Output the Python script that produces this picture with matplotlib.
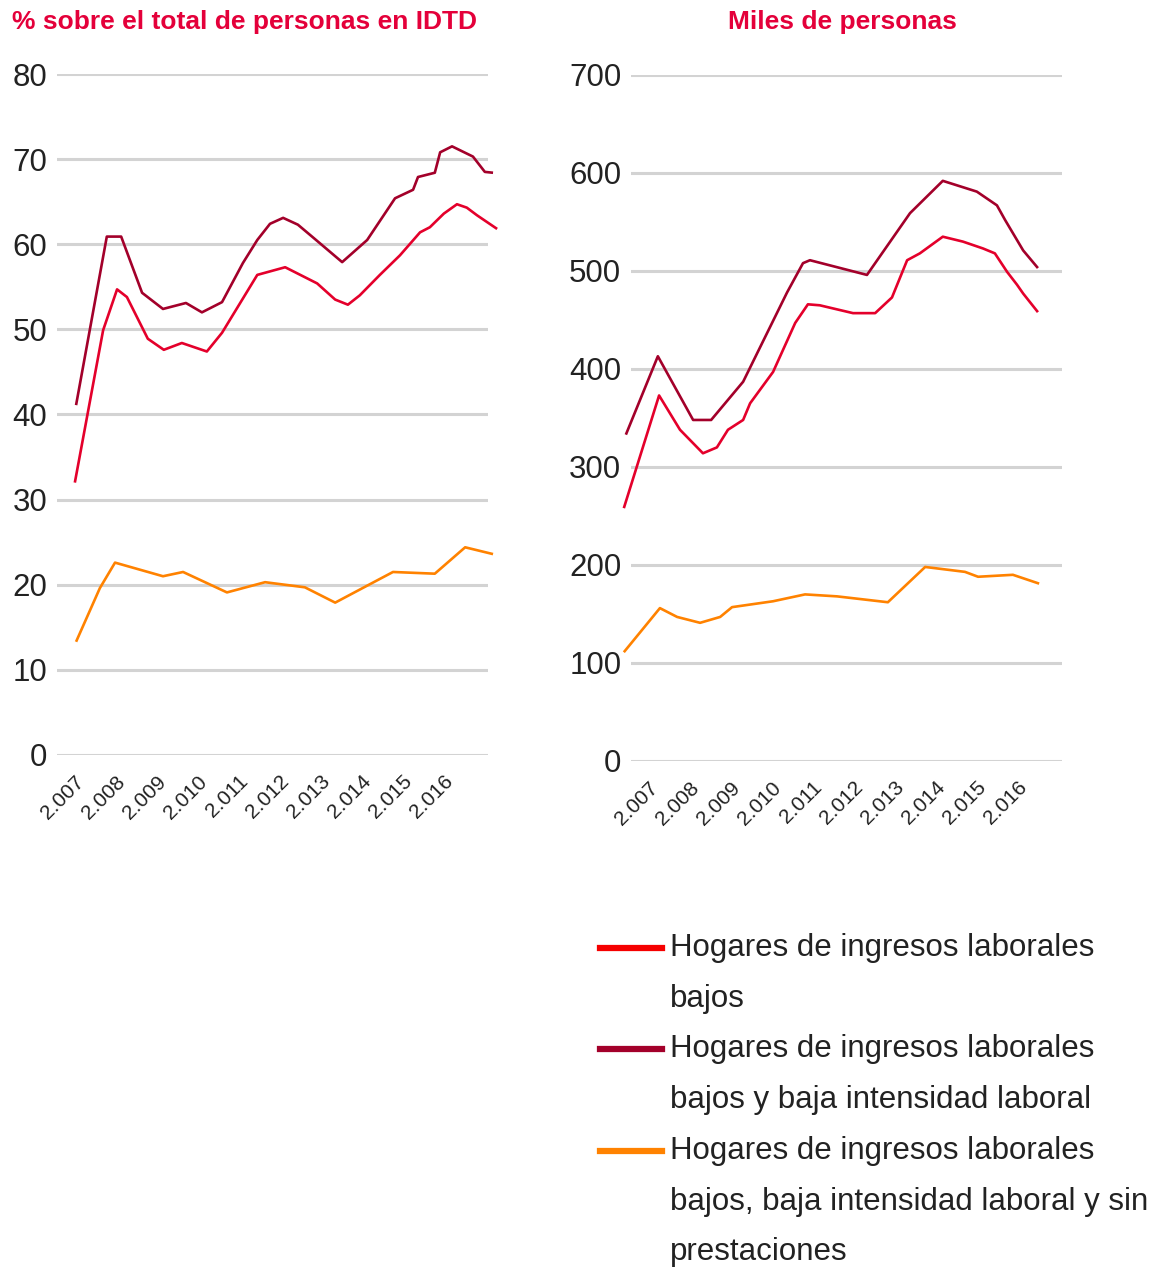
import matplotlib
matplotlib.use("Agg")
import matplotlib.pyplot as plt
from matplotlib.lines import Line2D

# Colours
RED = "#e4002b"
DARK = "#a3002a"
ORANGE = "#ff8200"
GRID = "#d3d3d3"
TXT = "#222222"

# Years on the x axis
years = [2007, 2008, 2009, 2010, 2011, 2012, 2013, 2014, 2015, 2016]
year_labels = ["2.007", "2.008", "2.009", "2.010", "2.011",
               "2.012", "2.013", "2.014", "2.015", "2.016"]

# Left panel: % sobre el total de personas en IDTD
pct_red_x = [2006.85, 2007.54, 2007.88, 2008.12, 2008.63, 2009.02, 2009.46,
             2010.07, 2010.44, 2011.30, 2011.98, 2012.76, 2013.20, 2013.51,
             2013.80, 2014.29, 2014.78, 2015.27, 2015.51, 2015.85, 2016.17,
             2016.41, 2016.66, 2017.15]
pct_red_y = [32.0, 49.9, 54.7, 53.8, 48.9, 47.6, 48.4, 47.4, 49.6, 56.4,
             57.3, 55.4, 53.5, 52.9, 54.0, 56.4, 58.7, 61.4, 62.0, 63.6, 64.7,
             64.3, 63.4, 61.8]

pct_dark_x = [2006.88, 2007.63, 2007.98, 2008.49, 2009.00, 2009.56, 2009.95,
              2010.44, 2010.95, 2011.30, 2011.61, 2011.93, 2012.29, 2012.66,
              2013.37, 2013.98, 2014.66, 2015.10, 2015.22, 2015.63, 2015.76,
              2016.05, 2016.56, 2016.85, 2017.05]
pct_dark_y = [41.1, 60.9, 60.9, 54.3, 52.4, 53.1, 52.0, 53.2, 57.8, 60.5,
              62.4, 63.1, 62.3, 60.8, 57.9, 60.5, 65.4, 66.4, 67.9, 68.4,
              70.8, 71.5, 70.3, 68.5, 68.4]

pct_orange_x = [2006.88, 2007.46, 2007.83, 2009.00, 2009.49, 2010.56, 2011.49,
                2012.46, 2013.20, 2014.10, 2014.61, 2015.63, 2016.37, 2017.05]
pct_orange_y = [13.3, 19.6, 22.6, 21.0, 21.5, 19.1, 20.3, 19.7, 17.9, 20.2,
                21.5, 21.3, 24.4, 23.6]

# Right panel: Miles de personas
mil_red_x = [2006.24, 2007.10, 2007.61, 2008.17, 2008.51, 2008.78, 2009.15,
             2009.32, 2009.88, 2010.42, 2010.73, 2011.02, 2011.83, 2012.37,
             2012.78, 2013.15, 2013.46, 2014.02, 2014.51, 2015.00, 2015.29,
             2015.59, 2015.83, 2015.98, 2016.34]
mil_red_y = [258, 373, 338, 314, 320, 338, 348, 365, 397, 447, 466, 465, 457,
             457, 473, 511, 518, 535, 530, 523, 518, 499, 486, 477, 458]

mil_dark_x = [2006.29, 2007.07, 2007.93, 2008.37, 2009.15, 2010.22, 2010.61,
              2010.78, 2012.17, 2013.22, 2014.02, 2014.85, 2015.34, 2015.54,
              2015.98, 2016.34]
mil_dark_y = [333, 413, 348, 348, 387, 478, 508, 511, 496, 559, 592, 581, 567,
              552, 521, 503]

mil_orange_x = [2006.24, 2007.12, 2007.54, 2008.10, 2008.59, 2008.88, 2009.88,
                2010.66, 2011.44, 2012.68, 2013.59, 2014.56, 2014.88, 2015.73,
                2016.37]
mil_orange_y = [111, 156, 147, 141, 147, 157, 163, 170, 168, 162, 198, 193, 188,
                190, 181]

legend_lines = [
    ["Hogares de ingresos laborales", "bajos"],
    ["Hogares de ingresos laborales", "bajos y baja intensidad laboral"],
    ["Hogares de ingresos laborales", "bajos, baja intensidad laboral y sin",
     "prestaciones"],
]
legend_colors = ["#f50000", "#a3002a", "#ff8200"]

plt.rcParams["font.family"] = ["Liberation Sans", "DejaVu Sans"]

fig = plt.figure(figsize=(11.65, 12.67), dpi=100)
W, H = 1165, 1267

ax1 = fig.add_axes([57 / W, 1 - 755 / H, 431 / W, 681 / H])
ax2 = fig.add_axes([631 / W, 1 - 761 / H, 431 / W, 686 / H])

XMIN, XMAX = 2006.415, 2006.415 + 431 / 41


def style(ax, ymax, step):
    for s in ax.spines.values():
        s.set_visible(False)
    ax.set_xlim(XMIN, XMAX)
    ax.set_ylim(0, ymax)
    ax.set_yticks(range(0, ymax + 1, step))
    ax.grid(axis="y", color=GRID, linewidth=2.2)
    ax.set_axisbelow(True)
    ax.tick_params(axis="y", length=0, labelsize=22.5, labelcolor=TXT, pad=7)
    ax.tick_params(axis="x", length=0, labelsize=15, labelcolor=TXT, pad=17)
    ax.set_xticks(years)
    ax.set_xticklabels(year_labels)
    for lbl in ax.get_xticklabels():
        lbl.set_rotation(45)
        lbl.set_ha("right")
        lbl.set_va("center")
        lbl.set_rotation_mode("anchor")


style(ax1, 80, 10)
style(ax2, 700, 100)

lw = 1.9
kw = dict(linewidth=lw, clip_on=False, solid_joinstyle="round", solid_capstyle="butt")
ax1.plot(pct_orange_x, pct_orange_y, color=ORANGE, **kw)
ax1.plot(pct_red_x, pct_red_y, color=RED, **kw)
ax1.plot(pct_dark_x, pct_dark_y, color=DARK, **kw)

ax2.plot(mil_orange_x, mil_orange_y, color=ORANGE, **kw)
ax2.plot(mil_red_x, mil_red_y, color=RED, **kw)
ax2.plot(mil_dark_x, mil_dark_y, color=DARK, **kw)

title_kw = dict(color="#e4003a", fontsize=19, fontweight="bold",
                ha="center", va="center")
fig.text(244 / W, 1 - 22 / H, "% sobre el total de personas en IDTD", **title_kw)
fig.text(842 / W, 1 - 22 / H, "Miles de personas", **title_kw)

# Legend drawn by hand so the marker sits on the first line of each label
y = 948
for lines, col in zip(legend_lines, legend_colors):
    fig.add_artist(Line2D([600 / W, 662 / W], [1 - y / H, 1 - y / H],
                          color=col, linewidth=4.5, transform=fig.transFigure))
    for ln in lines:
        fig.text(670 / W, 1 - y / H, ln, fontsize=22.5, color=TXT,
                 ha="left", va="center")
        y += 50.7

fig.savefig("out.png", dpi=100, facecolor="white")
